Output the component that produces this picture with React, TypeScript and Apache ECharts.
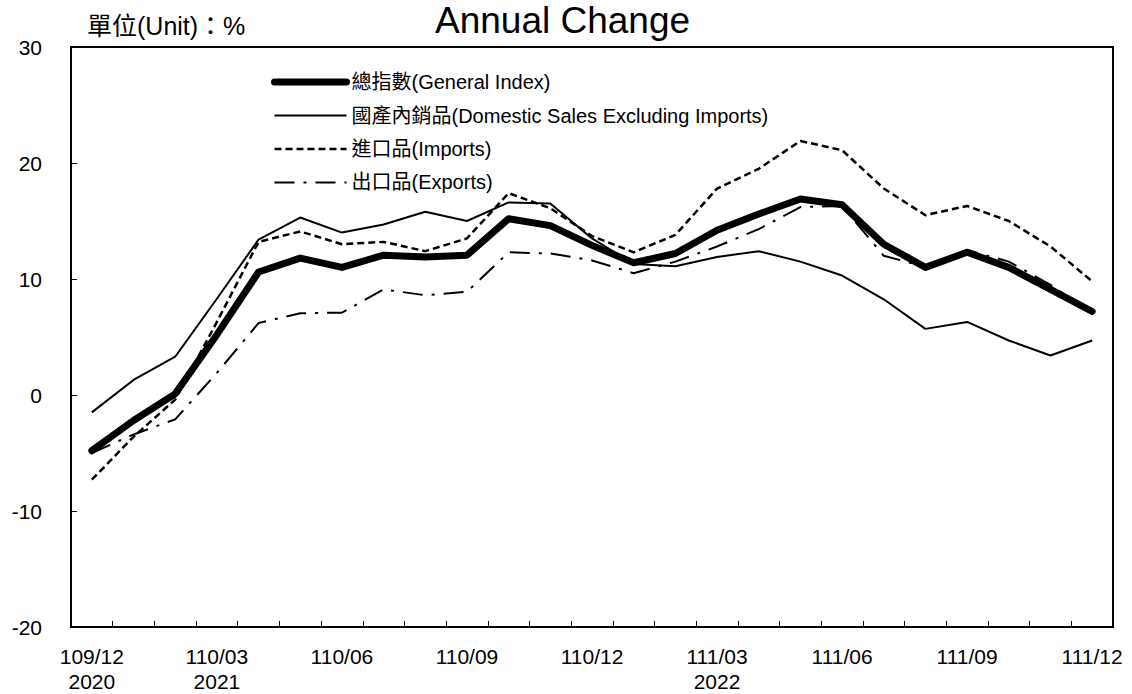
import React, { useEffect, useRef } from "react";
import * as echarts from "echarts";

const months = [
  "109/12", "110/01", "110/02", "110/03", "110/04", "110/05", "110/06", "110/07", "110/08",
  "110/09", "110/10", "110/11", "110/12", "111/01", "111/02", "111/03", "111/04", "111/05",
  "111/06", "111/07", "111/08", "111/09", "111/10", "111/11", "111/12",
];
const yearLabels: Record<string, string> = { "109/12": "2020", "110/03": "2021", "111/03": "2022" };

const generalIndex = [-4.8, -2.2, 0.1, 5.2, 10.6, 11.8, 11.0, 12.05, 11.9, 12.05, 15.2, 14.6, 12.9, 11.4, 12.2, 14.2, 15.6, 16.9, 16.4, 13.0, 11.0, 12.3, 11.0, 9.1, 7.2];
const domesticSales = [-1.5, 1.3, 3.3, 8.3, 13.4, 15.3, 14.0, 14.7, 15.8, 15.0, 16.6, 16.5, 13.5, 11.3, 11.1, 11.9, 12.4, 11.5, 10.3, 8.25, 5.7, 6.3, 4.7, 3.4, 4.7];
const imports = [-7.3, -3.6, -0.4, 6.3, 13.2, 14.1, 13.0, 13.2, 12.4, 13.5, 17.4, 16.1, 13.7, 12.3, 13.8, 17.8, 19.5, 21.9, 21.1, 17.8, 15.5, 16.3, 15.0, 12.8, 9.8];
const exportsData = [-5.0, -3.4, -2.1, 1.9, 6.2, 7.05, 7.1, 9.1, 8.6, 8.9, 12.3, 12.2, 11.6, 10.5, 11.5, 12.8, 14.3, 16.2, 16.3, 12.0, 11.05, 12.5, 11.5, 9.5, 7.05];

const seriesNames = [
  "總指數(General Index)",
  "國產內銷品(Domestic Sales Excluding Imports)",
  "進口品(Imports)",
  "出口品(Exports)",
];

const FONT = "'Liberation Sans', Arial, 'Noto Sans CJK TC', sans-serif";

export default function App() {
  const ref = useRef<HTMLDivElement>(null);
  useEffect(() => {
    if (!ref.current) return;
    const chart = echarts.init(ref.current, undefined, { renderer: "svg" });
    const styles: any[] = [
      { width: 7, type: "solid", cap: "round", join: "round" },
      { width: 2, type: "solid" },
      { width: 2.5, type: [7, 4] },
      { width: 2, type: [20, 9, 3, 9] },
    ];
    const dataArr = [generalIndex, domesticSales, imports, exportsData];
    chart.setOption({
      animation: false,
      textStyle: { fontFamily: FONT, color: "#000" },
      grid: { left: 71, right: 19, top: 47, bottom: 63, show: true, borderColor: "#000", borderWidth: 2, containLabel: false },
      graphic: [
        { type: "text", left: 435, top: 2, style: { text: "Annual Change", fontSize: 37, fontFamily: FONT, fill: "#000" } },
        { type: "text", left: 87, top: 13, style: { text: "單位(Unit)：%", fontSize: 25, fontFamily: FONT, fill: "#000" } },
      ],
      legend: {
        orient: "vertical",
        left: 266,
        top: 67,
        itemWidth: 72,
        itemHeight: 14,
        itemGap: 13.5,
        itemStyle: { opacity: 0 },
        textStyle: { fontSize: 20, fontFamily: FONT, color: "#000" },
        data: seriesNames.map((n, i) => ({
          name: n,
          itemStyle: { opacity: 0 },
          lineStyle: { width: styles[i].width, type: styles[i].type, color: "#000", cap: styles[i].cap || "butt", opacity: 1 },
        })),
      },
      xAxis: {
        type: "category",
        data: months,
        boundaryGap: true,
        axisLine: { show: true, onZero: false, lineStyle: { color: "#000", width: 2 } },
        axisTick: { show: true, inside: true, length: 6, interval: 0, lineStyle: { color: "#000" } },
        axisLabel: {
          interval: 2,
          fontSize: 21,
          color: "#000",
          lineHeight: 25,
          margin: 17,
          fontFamily: FONT,
          formatter: (v: string) => (yearLabels[v] ? `${v}\n${yearLabels[v]}` : v),
        },
        splitLine: { show: false },
      },
      yAxis: {
        type: "value",
        min: -20,
        max: 30,
        interval: 10,
        axisLine: { show: true, lineStyle: { color: "#000", width: 2 } },
        axisTick: { show: true, inside: true, length: 6, lineStyle: { color: "#000" } },
        axisLabel: { fontSize: 21, color: "#000", margin: 29, fontFamily: FONT },
        splitLine: { show: false },
      },
      series: seriesNames.map((n, i) => ({
        name: n,
        type: "line",
        data: dataArr[i],
        symbol: "none",
        z: 10 - i,
        lineStyle: { color: "#000", ...styles[i] },
        itemStyle: { color: "#000" },
      })),
    });
    return () => chart.dispose();
  }, []);
  return <div ref={ref} style={{ position: "absolute", left: 0, top: 0, width: 1132, height: 694 }} />;
}
